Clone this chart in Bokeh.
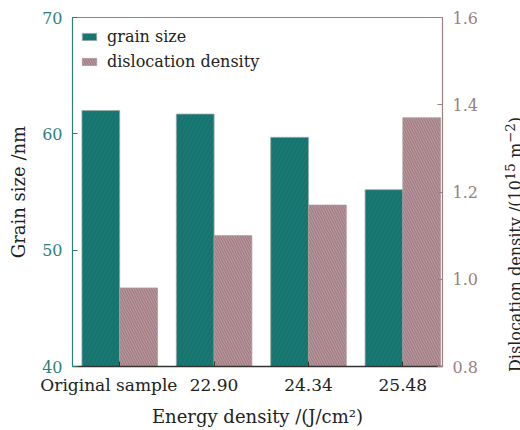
from bokeh.plotting import figure
from bokeh.layouts import row
from bokeh.models import (Range1d, LinearAxis, FixedTicker, ColumnDataSource, Legend,
                          LegendItem, PrintfTickFormatter, Div)
from bokeh.embed import file_html
from bokeh.resources import INLINE

categories = ["Original sample\u00a0\u00a0\u00a0\u00a0", "22.90", "24.34", "25.48"]
positions = [0, 1, 2, 3]
grain_size = [62.0, 61.7, 59.7, 55.2]
dislocation_density = [0.98, 1.10, 1.17, 1.37]

TEAL = "#147a73"
TEAL_TXT = "#2e7f7b"
MAUVE = "#b9959b"
MAUVE_TXT = "#9a7f83"
FONT = "DejaVu Serif"

p = figure(width=488, height=430, output_backend="svg", toolbar_location=None,
           x_range=Range1d(-0.5, 3.42), y_range=Range1d(40, 70),
           min_border_left=72, min_border_right=46, min_border_top=17, min_border_bottom=64)
p.outline_line_color = None
p.grid.visible = False
p.background_fill_color = "white"
p.extra_y_ranges = {"d": Range1d(0.8, 1.6)}

src = ColumnDataSource(dict(
    xg=[x - 0.2 for x in positions], xd=[x + 0.2 for x in positions],
    g=grain_size, d=dislocation_density))

rg = p.vbar(x="xg", top="g", bottom=40, width=0.4, source=src, fill_color=TEAL,
            line_color="#9aaaa8", line_width=0.8,
            hatch_pattern="/", hatch_color="#2f4f4f", hatch_alpha=0.45, hatch_scale=8, hatch_weight=0.8)
rd = p.vbar(x="xd", top="d", bottom=0.8, width=0.4, source=src, y_range_name="d", fill_color=MAUVE,
            line_color="#a89a9c", line_width=0.8,
            hatch_pattern="\\", hatch_color="#5a4448", hatch_alpha=0.5, hatch_scale=5, hatch_weight=0.7)

# x axis
xa = p.xaxis[0]
xa.ticker = FixedTicker(ticks=positions)
xa.major_label_overrides = {i: c for i, c in zip(positions, categories)}
xa.axis_label = "Energy density /(J/cm\u00b2)"
xa.axis_line_color = "#333333"
xa.axis_line_width = 1.5
xa.major_tick_in = 5
xa.major_tick_out = 0
xa.major_tick_line_color = "#333333"
xa.minor_tick_line_color = None
xa.major_label_text_font = FONT
xa.major_label_text_font_size = "17px"
xa.major_label_text_color = "#222222"
xa.major_label_standoff = 8
xa.axis_label_text_font = FONT
xa.axis_label_text_font_size = "18px"
xa.axis_label_text_font_style = "normal"
xa.axis_label_text_color = "#222222"
xa.axis_label_standoff = 8

# left axis
ya = p.yaxis[0]
ya.ticker = FixedTicker(ticks=[40, 50, 60, 70])
ya.axis_label = "Grain size /nm"
ya.axis_line_color = TEAL_TXT
ya.axis_line_width = 1.2
ya.major_tick_in = 5
ya.major_tick_out = 0
ya.major_tick_line_color = TEAL_TXT
ya.minor_tick_line_color = None
ya.major_label_text_font = FONT
ya.major_label_text_font_size = "16px"
ya.major_label_text_color = TEAL_TXT
ya.major_label_standoff = 10
ya.axis_label_text_font = FONT
ya.axis_label_text_font_size = "18px"
ya.axis_label_text_font_style = "normal"
ya.axis_label_text_color = "#222222"
ya.axis_label_standoff = 10

# right axis
ra = LinearAxis(y_range_name="d", ticker=FixedTicker(ticks=[0.8, 1.0, 1.2, 1.4, 1.6]))
ra.formatter = PrintfTickFormatter(format="%.1f")
ra.axis_line_color = MAUVE_TXT
ra.axis_line_width = 1.2
ra.major_tick_in = 5
ra.major_tick_out = 0
ra.major_tick_line_color = MAUVE_TXT
ra.minor_tick_line_color = None
ra.major_label_text_font = FONT
ra.major_label_text_font_size = "16px"
ra.major_label_text_color = MAUVE_TXT
ra.major_label_standoff = 10
p.add_layout(ra, "right")

# top border
ta = LinearAxis(ticker=FixedTicker(ticks=[]))
ta.axis_line_color = MAUVE_TXT
ta.axis_line_width = 1.2
ta.major_label_text_font_size = "0px"
ta.minor_tick_line_color = None
ta.major_tick_line_color = None
p.add_layout(ta, "above")

legend = Legend(items=[LegendItem(label="grain size", renderers=[rg]),
                       LegendItem(label="dislocation density", renderers=[rd])],
                location="top_left")
legend.border_line_color = None
legend.background_fill_alpha = 0
legend.label_text_font = FONT
legend.label_text_font_size = "16px"
legend.label_text_color = "#222222"
legend.label_standoff = 9
legend.glyph_width = 18
legend.glyph_height = 9
legend.label_height = 22
legend.spacing = 3
legend.margin = 8
legend.padding = 2
p.add_layout(legend)

right_label = Div(
    text=('<div style="margin:0;padding:0;white-space:nowrap;line-height:24px;'
          'transform-origin:0 0;transform:translate(6px,367px) rotate(-90deg);">'
          'Dislocation density /(10<sup>15</sup> m<sup>&minus;2</sup>)</div>'),
    width=32, height=430,
    styles={"font-family": FONT, "font-size": "16px", "color": "#222222"})

layout = row(p, right_label)
open("out.html", "w").write(file_html(layout, INLINE))
